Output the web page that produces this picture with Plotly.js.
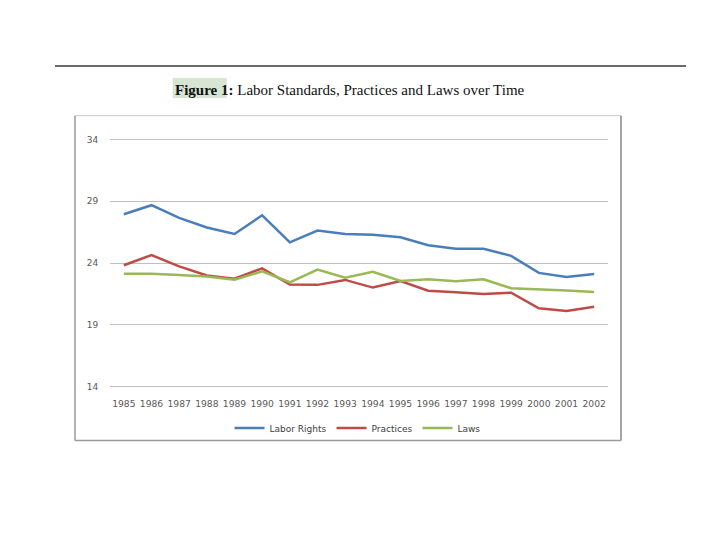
<!DOCTYPE html>
<html>
<head>
<meta charset="utf-8">
<script src="https://cdn.plot.ly/plotly-3.0.1.min.js"></script>
<style>html,body{margin:0;padding:0;background:#fff;}#chart{width:720px;height:540px;}</style>
</head>
<body>
<div id="chart"></div>
<script>
var years = ['1985','1986','1987','1988','1989','1990','1991','1992','1993','1994','1995','1996','1997','1998','1999','2000','2001','2002'];
var laborRights = [27.95, 28.68, 27.65, 26.87, 26.35, 27.86, 25.67, 26.63, 26.35, 26.28, 26.08, 25.44, 25.16, 25.16, 24.58, 23.20, 22.87, 23.11];
var practices = [23.82, 24.64, 23.73, 22.99, 22.73, 23.57, 22.25, 22.23, 22.63, 22.01, 22.54, 21.75, 21.64, 21.50, 21.60, 20.33, 20.11, 20.45];
var laws = [23.12, 23.12, 23.02, 22.91, 22.65, 23.32, 22.44, 23.46, 22.80, 23.28, 22.54, 22.68, 22.53, 22.68, 21.96, 21.88, 21.78, 21.65];
var yTicks = [14, 19, 24, 29, 34];

function tr(name, y, color) {
  return {type:'scatter', mode:'lines', name:name, x:years, y:y,
          line:{color:color, width:2.5}, hoverinfo:'skip'};
}
var data = [
  tr('Labor Rights', laborRights, '#4A7EBB'),
  tr('Practices', practices, '#BE4B48'),
  tr('Laws', laws, '#98B954')
];

// plot area in pixels (for placing decorations)
var L = 110, R = 608, T = 137, B = 389;
function px(x) { return (x - L) / (R - L); }
function py(y) { return (B - y) / (B - T); }

var border = '#9a9a9a';
var layout = {
  width:720, height:540,
  margin:{l:L, r:720 - R, t:T, b:540 - B, pad:0},
  paper_bgcolor:'#ffffff', plot_bgcolor:'#ffffff',
  showlegend:true,
  font:{family:'DejaVu Sans, sans-serif', size:9, color:'#595959'},
  xaxis:{type:'category', categoryorder:'array', categoryarray:years,
         tickvals:years, ticktext:years, range:[-0.5,17.5],
         showgrid:false, zeroline:false, showline:false,
         ticks:'outside', ticklen:6, tickcolor:'rgba(0,0,0,0)',
         tickfont:{family:'DejaVu Sans, sans-serif', size:9.2, color:'#595959'}},
  yaxis:{range:[13.8,34.2], tickvals:yTicks, ticktext:yTicks.map(String),
         showgrid:true, gridcolor:'#c0c0c0', gridwidth:1,
         zeroline:false, showline:false,
         ticks:'outside', ticklen:9, tickcolor:'rgba(0,0,0,0)',
         tickfont:{family:'DejaVu Sans, sans-serif', size:9, color:'#595959'}},
  legend:{orientation:'h', x:0.24, xanchor:'left', y:py(428), yanchor:'middle',
          bgcolor:'rgba(0,0,0,0)', itemwidth:30,
          font:{family:'DejaVu Sans, sans-serif', size:9, color:'#404040'}},
  shapes:[
    {type:'line', xref:'paper', yref:'paper', x0:px(55), x1:px(686), y0:py(66), y1:py(66),
     line:{color:'#3a3a3a', width:1.6}},
    {type:'rect', xref:'paper', yref:'paper', x0:px(172.7), x1:px(226.7), y0:py(98), y1:py(78),
     fillcolor:'#d6e6d3', line:{width:0}, layer:'below'},
    {type:'line', xref:'paper', yref:'paper', x0:px(75), x1:px(621), y0:py(115.7), y1:py(115.7),
     line:{color:'#d4d4d4', width:1.2}},
    {type:'line', xref:'paper', yref:'paper', x0:px(75), x1:px(75), y0:py(115.7), y1:py(440.5),
     line:{color:border, width:1.5}},
    {type:'line', xref:'paper', yref:'paper', x0:px(621), x1:px(621), y0:py(115.7), y1:py(440.5),
     line:{color:border, width:1.8}},
    {type:'line', xref:'paper', yref:'paper', x0:px(75), x1:px(621), y0:py(440.5), y1:py(440.5),
     line:{color:border, width:1.5}}
  ],
  annotations:[
    {xref:'paper', yref:'paper', x:px(173), y:py(90), xanchor:'left', yanchor:'middle',
     showarrow:false,
     text:'<b>Figure 1:</b> Labor Standards, Practices and Laws over Time',
     font:{family:'Liberation Serif, Times New Roman, serif', size:15, color:'#111111'}}
  ]
};
Plotly.newPlot('chart', data, layout, {staticPlot:true, displayModeBar:false});
</script>
</body>
</html>
